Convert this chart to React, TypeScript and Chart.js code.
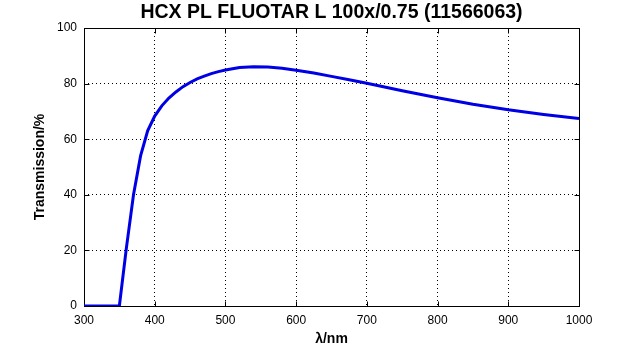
import React, { useEffect, useRef } from "react";
import { Chart, registerables } from "chart.js";

Chart.register(...registerables);

const titleText = "HCX PL FLUOTAR L 100x/0.75 (11566063)";
const xTitle = "λ/nm";
const yTitle = "Transmission/%";

const wavelengths = [300, 350, 360, 370, 380, 390, 400, 410, 420, 430, 440, 450, 460, 470, 480, 490, 500, 520, 540, 560, 580, 600, 625, 650, 675, 700, 750, 800, 850, 900, 950, 1000];
const transmission = [0, 0, 21, 40, 54, 63, 68.3, 72, 74.8, 77, 78.9, 80.4, 81.7, 82.7, 83.6, 84.3, 84.9, 85.8, 86.1, 86, 85.5, 84.8, 83.8, 82.6, 81.4, 80.1, 77.4, 74.9, 72.6, 70.6, 68.9, 67.4];

const xMin = 300, xMax = 1000, xStep = 100;
const yMin = 0, yMax = 100, yStep = 20;

const framePlugin = {
  id: "frame",
  beforeDatasetsDraw(chart: any) {
    const { ctx, chartArea } = chart;
    const l = Math.round(chartArea.left) + 0.5;
    const r = Math.round(chartArea.right) + 0.5;
    const t = Math.round(chartArea.top) + 0.5;
    const b = Math.round(chartArea.bottom) + 0.5;
    ctx.save();
    ctx.strokeStyle = "#000";
    ctx.lineWidth = 1;
    ctx.setLineDash([]);
    ctx.strokeRect(l, t, r - l, b - t);
    const tl = 5;
    ctx.beginPath();
    chart.scales.x.ticks.forEach((tk: any) => {
      const px = Math.round(chart.scales.x.getPixelForValue(tk.value)) + 0.5;
      ctx.moveTo(px, b); ctx.lineTo(px, b - tl);
      ctx.moveTo(px, t); ctx.lineTo(px, t + tl);
    });
    chart.scales.y.ticks.forEach((tk: any) => {
      const py = Math.round(chart.scales.y.getPixelForValue(tk.value)) + 0.5;
      ctx.moveTo(l, py); ctx.lineTo(l + tl, py);
      ctx.moveTo(r, py); ctx.lineTo(r - tl, py);
    });
    ctx.stroke();
    ctx.restore();
  },
  afterDraw(chart: any) {
    const { ctx, chartArea } = chart;
    ctx.save();
    ctx.fillStyle = "#000";
    ctx.font = 'bold 19.5px "Liberation Sans", Arial, sans-serif';
    ctx.textAlign = "center";
    ctx.textBaseline = "middle";
    ctx.fillText(titleText, (chartArea.left + chartArea.right) / 2, 13);
    ctx.restore();
  },
};

export default function App() {
  const ref = useRef<HTMLCanvasElement>(null);
  useEffect(() => {
    if (!ref.current) return;
    Chart.defaults.font.family = '"Liberation Sans", Arial, sans-serif';
    const chart = new Chart(ref.current, {
      type: "line",
      data: {
        datasets: [
          {
            data: wavelengths.map((w, i) => ({ x: w, y: transmission[i] })),
            borderColor: "rgb(0,0,230)",
            borderWidth: 3,
            pointRadius: 0,
            tension: 0,
            fill: false,
          },
        ],
      },
      options: {
        responsive: false,
        animation: false,
        devicePixelRatio: 1,
        layout: { padding: { top: 28, right: 61, left: 0, bottom: 0 } },
        plugins: { legend: { display: false }, tooltip: { enabled: false }, title: { display: false } },
        scales: {
          x: {
            type: "linear",
            min: xMin,
            max: xMax,
            afterFit: (s: any) => { s.height = 44; },
            ticks: { stepSize: xStep, color: "#000", font: { size: 12 }, padding: 7, callback: (v: any) => String(v) },
            grid: { color: "#000", lineWidth: 1, drawTicks: false },
            border: { display: false, dash: [1, 3] },
            title: { display: true, text: xTitle, color: "#000", font: { size: 14, weight: "bold" }, padding: { top: 4, bottom: 2 } },
          },
          y: {
            min: yMin,
            max: yMax,
            afterFit: (s: any) => { s.width = 84; },
            ticks: { stepSize: yStep, color: "#000", font: { size: 12 }, padding: 7, callback: (v: any) => String(v) },
            grid: { color: "#000", lineWidth: 1, drawTicks: false },
            border: { display: false, dash: [1, 3] },
            title: { display: true, text: yTitle, color: "#000", font: { size: 14, weight: "bold" }, padding: { top: 32, bottom: 0 } },
          },
        },
      },
      plugins: [framePlugin],
    } as any);
    return () => chart.destroy();
  }, []);
  return (
    <div style={{ position: "fixed", left: 0, top: 0, width: 640, height: 350, background: "#fff" }}>
      <canvas ref={ref} width={640} height={350} />
    </div>
  );
}
